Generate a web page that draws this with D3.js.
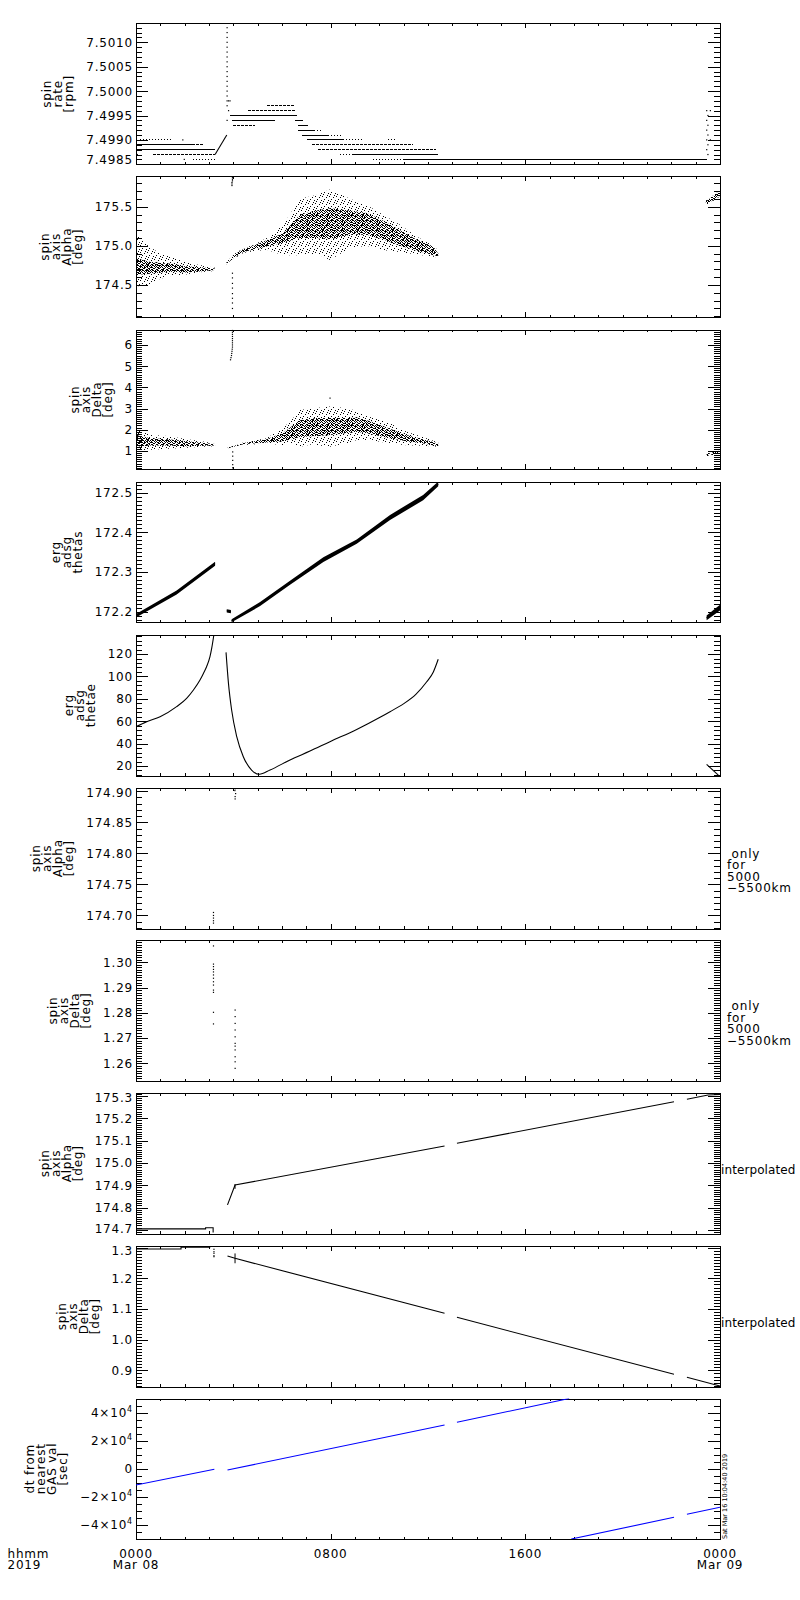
<!DOCTYPE html>
<html>
<head>
<meta charset="utf-8">
<script src="https://cdn.jsdelivr.net/npm/d3@7/dist/d3.min.js"></script>
<style>
  body { margin: 0; background: #fff; }
  svg text { font-family: "DejaVu Sans", sans-serif; font-size: 12px; letter-spacing: 0.8px; fill: #000; }
</style>
</head>
<body>
<div id="chart"></div>
<script>
// time axis, hours after 2019-03-08 00:00
const HOUR_DOMAIN = [0, 24];
const X_MAJOR = [0, 8, 16, 24];
const X_MINOR = d3.range(0, 25);
const X_LABELS = [["0000", "Mar 08"], ["0800"], ["1600"], ["0000", "Mar 09"]];

// y domains and tick labels, one pair per panel
const rateDomain = [7.4985, 7.50139];
const rateTicks = [7.4985, 7.4990, 7.4995, 7.5000, 7.5005, 7.5010];
const alphaDomain = [174.091, 175.888];
const alphaTicks = [174.5, 175.0, 175.5];
const deltaDomain = [0.13, 6.72];
const deltaTicks = [1, 2, 3, 4, 5, 6];
const thetasDomain = [172.173, 172.527];
const thetasTicks = [172.2, 172.3, 172.4, 172.5];
const thetaeDomain = [11.5, 137];
const thetaeTicks = [20, 40, 60, 80, 100, 120];
const alphaOnlyDomain = [174.679, 174.9053];
const alphaOnlyTicks = [174.70, 174.75, 174.80, 174.85, 174.90];
const deltaOnlyDomain = [1.25299, 1.30885];
const deltaOnlyTicks = [1.26, 1.27, 1.28, 1.29, 1.30];
const alphaInterpDomain = [174.684, 175.313];
const alphaInterpTicks = [174.7, 174.8, 174.9, 175.0, 175.1, 175.2, 175.3];
const deltaInterpDomain = [0.8476, 1.3052];
const deltaInterpTicks = [0.9, 1.0, 1.1, 1.2, 1.3];
const dtDomain = [-50000, 50000];
const dtTicks = [-40000, -20000, 0, 20000, 40000];

const noteOnly = [" only", "for", "5000", "\u22125500km"];
const noteInterp = ["", "interpolated"];
const STAMP = "Sat Mar 16 10:04:40 2019";

// panel 1: spin rate runs [h0, h1, rpm]
const rateSolid = [
  [0.03, 2.29, 7.4989], [0.03, 3.25, 7.4988], [3.86, 6.60, 7.4995], [3.93, 5.71, 7.4994],
  [6.53, 6.85, 7.4994], [6.66, 7.07, 7.4993], [6.66, 7.30, 7.4992], [6.82, 7.90, 7.4991],
  [7.03, 8.50, 7.4990], [8.86, 12.41, 7.4987], [11.00, 23.45, 7.4986]
];
const rateDashed = [
  [0.71, 3.25, 7.4987], [2.29, 2.74, 7.4989], [4.00, 4.89, 7.4993], [5.37, 6.53, 7.4997],
  [4.62, 6.53, 7.4996], [7.23, 11.38, 7.4989], [7.48, 12.33, 7.4988]
];
const rateDotted = [
  [0.16, 1.47, 7.4990], [2.36, 3.25, 7.4986], [7.30, 7.68, 7.4992], [7.90, 8.47, 7.4991],
  [8.50, 9.33, 7.4990], [10.36, 10.68, 7.4990], [8.38, 8.86, 7.4987], [9.73, 11.00, 7.4986]
];
const rateRamp = [[3.25, 7.4987], [3.73, 7.4991]];
const rateDots = [
  [3.74, 7.5013], [3.74, 7.5012], [3.74, 7.5011], [3.74, 7.5010], [3.74, 7.5009], [3.74, 7.5008],
  [3.74, 7.5007], [3.74, 7.5006], [3.74, 7.5005], [3.74, 7.5004], [3.74, 7.5003], [3.74, 7.5002],
  [3.74, 7.5001], [3.74, 7.5000], [3.74, 7.4999], [3.74, 7.4998], [3.80, 7.4998], [3.86, 7.4998],
  [3.74, 7.4997], [3.80, 7.4996], [3.74, 7.4994], [1.92, 7.4990], [1.98, 7.4986], [0.05, 7.4987],
  [23.45, 7.4996], [23.50, 7.4995], [23.45, 7.4994], [23.50, 7.4993], [23.45, 7.4992],
  [23.50, 7.4991], [23.45, 7.4990], [23.50, 7.4989], [23.45, 7.4988], [23.50, 7.4987],
  [23.60, 7.4996], [23.60, 7.4990]
];

// panel 2: spin axis alpha, scatter envelope [h, lo, hi] and dense core
const alphaSpread = [
  [[0, 174.48, 175.15], [0.5, 174.50, 175.00], [1.0, 174.58, 174.90], [1.5, 174.62, 174.85],
   [2.0, 174.63, 174.80], [2.5, 174.66, 174.76], [3.25, 174.68, 174.72]],
  [[3.70, 174.76, 174.78], [4.00, 174.83, 174.89], [4.41, 174.91, 174.97], [4.82, 174.93, 175.01],
   [5.37, 174.95, 175.10], [6.05, 174.88, 175.27], [6.74, 174.88, 175.60], [7.42, 174.90, 175.65],
   [7.97, 174.82, 175.72], [8.79, 174.97, 175.60], [9.48, 175.00, 175.52], [10.03, 174.95, 175.42],
   [10.85, 174.92, 175.27], [11.53, 174.89, 175.12], [12.22, 174.86, 175.00], [12.42, 174.85, 174.94]],
  [[23.42, 175.52, 175.58], [23.70, 175.57, 175.64], [24, 175.63, 175.71]]
];
const alphaCore = [
  [[0, 174.63, 174.84], [0.5, 174.64, 174.80], [1.0, 174.66, 174.78], [1.5, 174.67, 174.77],
   [2.0, 174.66, 174.74], [2.5, 174.67, 174.73], [3.25, 174.69, 174.71]],
  [[3.70, 174.76, 174.78], [4.00, 174.84, 174.88], [4.41, 174.92, 174.96], [4.82, 174.95, 175.00],
   [5.37, 174.99, 175.07], [6.05, 175.04, 175.16], [6.74, 175.10, 175.40], [7.42, 175.10, 175.45],
   [7.97, 175.08, 175.48], [8.79, 175.14, 175.45], [9.48, 175.14, 175.42], [10.16, 175.08, 175.32],
   [10.85, 175.00, 175.20], [11.53, 174.94, 175.08], [12.22, 174.88, 174.99], [12.42, 174.87, 174.90]],
  [[23.42, 175.53, 175.57], [23.70, 175.58, 175.63], [24, 175.64, 175.70]]
];
const alphaDots = [
  [3.96, 175.87], [3.96, 175.85], [3.96, 175.83], [3.94, 175.81], [3.94, 175.79], [3.94, 175.77],
  [3.96, 174.65], [3.96, 174.59], [3.96, 174.52], [3.96, 174.46], [3.96, 174.39], [3.96, 174.33],
  [3.96, 174.27], [3.96, 174.20]
];

// panel 3: spin axis delta
const deltaSpread = [
  [[0, 1.00, 2.10], [0.6, 1.05, 1.75], [1.3, 1.10, 1.70], [2.1, 1.15, 1.55], [2.7, 1.20, 1.45], [3.25, 1.22, 1.35]],
  [[3.70, 1.08, 1.14], [4.41, 1.28, 1.40], [5.37, 1.35, 1.60], [6.05, 1.27, 2.10], [6.33, 1.35, 2.37],
   [6.74, 1.19, 2.93], [7.20, 1.30, 3.00], [7.97, 1.19, 3.10], [8.79, 1.40, 3.00], [9.07, 1.51, 2.85],
   [9.62, 1.51, 2.60], [10.44, 1.35, 2.30], [11.12, 1.27, 1.90], [11.80, 1.24, 1.65], [12.42, 1.19, 1.40]],
  [[23.45, 0.72, 0.88], [24, 0.88, 1.05]]
];
const deltaCore = [
  [[0, 1.20, 1.75], [0.6, 1.25, 1.60], [1.3, 1.25, 1.55], [2.1, 1.22, 1.45], [2.7, 1.24, 1.38], [3.25, 1.25, 1.32]],
  [[3.70, 1.10, 1.12], [4.41, 1.31, 1.37], [5.37, 1.40, 1.55], [6.05, 1.45, 1.85], [6.74, 1.65, 2.45],
   [7.42, 1.70, 2.55], [7.97, 1.75, 2.55], [8.79, 1.85, 2.55], [9.07, 1.90, 2.58], [9.62, 1.80, 2.40],
   [10.44, 1.60, 2.05], [11.12, 1.45, 1.75], [11.80, 1.35, 1.55], [12.42, 1.22, 1.35]],
  [[23.45, 0.76, 0.85], [24, 0.92, 1.02]]
];
const deltaDots = [
  [3.96, 6.70], [3.96, 6.60], [3.96, 6.50], [3.96, 6.40], [3.96, 6.30], [3.96, 6.20], [3.96, 6.10],
  [3.96, 6.00], [3.96, 5.90], [3.95, 5.80], [3.94, 5.70], [3.93, 5.60], [3.92, 5.50], [3.90, 5.40],
  [3.88, 5.30], [3.97, 0.95], [3.97, 0.75], [3.97, 0.55], [3.97, 0.35], [3.97, 0.20], [7.97, 3.49]
];

// panel 4: erg adsg thetas band [h, lo, hi]
const thetasBand = [
  [[0, 172.185, 172.194], [1.67, 172.243, 172.253], [3.25, 172.316, 172.326]],
  [[3.73, 172.198, 172.206], [3.90, 172.196, 172.204]],
  [[3.93, 172.173, 172.181], [5.10, 172.214, 172.224], [6.33, 172.268, 172.278], [7.70, 172.325, 172.337],
   [9.07, 172.371, 172.382], [10.44, 172.431, 172.444], [11.80, 172.481, 172.494], [12.42, 172.516, 172.528]],
  [[23.45, 172.178, 172.190], [24, 172.203, 172.217]]
];

// panel 5: erg adsg thetae
const thetaeLines = [
  [[0, 55.1], [0.44, 59.6], [0.99, 64.0], [1.67, 73.0], [2.08, 80.4], [2.36, 87.9], [2.63, 96.8],
   [2.77, 102.7], [2.90, 108.7], [3.04, 117.6], [3.11, 125.0], [3.20, 137.0]],
  [[3.70, 121.5], [3.80, 93.8], [3.93, 70.0], [4.14, 46.2], [4.41, 28.3], [4.75, 16.4], [5.07, 12.6],
   [5.51, 16.4], [6.33, 25.4], [7.15, 33.3], [7.97, 41.7], [9.07, 52.6], [10.03, 63.5], [10.44, 68.5],
   [10.99, 75.5], [11.50, 84.0], [11.94, 95.0], [12.22, 104.0], [12.42, 115.3]],
  [[23.45, 21.5], [23.93, 11.9]]
];

// panels 6 and 7: values only for 5000-5500 km
const alphaOnlyDots = [
  [3.18, 174.7048], [3.18, 174.7000], [3.18, 174.6958], [3.18, 174.6915], [3.18, 174.6877],
  [4.07, 174.9040], [4.06, 174.9011], [4.09, 174.8963], [4.07, 174.8915], [4.07, 174.8877]
];
const deltaOnlyDots = [
  [3.18, 1.3065], [3.18, 1.2993], [3.18, 1.2983], [3.18, 1.2972], [3.18, 1.2962], [3.18, 1.2950],
  [3.18, 1.2937], [3.18, 1.2923], [3.18, 1.2910], [3.18, 1.2890], [3.18, 1.2881], [3.18, 1.2802],
  [3.18, 1.2756], [4.07, 1.2811], [4.07, 1.2785], [4.07, 1.2758], [4.07, 1.2732], [4.07, 1.2705],
  [4.07, 1.2679], [4.07, 1.2668], [4.07, 1.2653], [4.07, 1.2626], [4.07, 1.2606], [4.07, 1.2580]
];

// panels 8 and 9: interpolated
const alphaInterpLines = [
  [[0, 174.7045], [2.86, 174.7045], [2.86, 174.7100], [3.17, 174.7100], [3.17, 174.6880]],
  [[3.76, 174.812], [4.07, 174.901], [12.68, 175.076]],
  [[13.19, 175.088], [22.11, 175.274]],
  [[22.64, 175.285], [23.51, 175.304], [24, 175.306]]
];
const alphaInterpMarks = [[4.07, 174.884, 174.905]];
const deltaInterpLines = [
  [[0, 1.2954], [1.85, 1.2954], [1.85, 1.3010], [3.03, 1.3010], [3.03, 1.3045], [3.17, 1.3045]],
  [[3.76, 1.2726], [4.07, 1.2651], [12.68, 1.0860]],
  [[13.19, 1.0730], [22.11, 0.8873]],
  [[22.64, 0.8775], [24, 0.8490]]
];
const deltaInterpMarks = [[4.07, 1.249, 1.281]];
const deltaInterpDots = [[3.20, 1.2945], [3.20, 1.2866], [3.20, 1.2814], [3.20, 1.2736], [3.20, 1.2704]];

// panel 10: dt from nearest GAS value [sec]
const dtLines = [
  [[0, -11566], [3.22, -391]],
  [[3.76, -890], [12.68, 31139]],
  [[13.19, 33060], [17.80, 50000]],
  [[17.89, -50000], [22.11, -34555]],
  [[22.64, -32420], [24, -27438]]
];

// ---------------------------------------------------------------
const WIDTH = 800;
const HEIGHT = 1600;
const LEFT = 136;
const RIGHT = 720;
const TOPS = [23.3, 176.3, 329.7, 482, 635, 788, 940, 1093, 1246, 1398.5];
const BOTTOMS = [164.3, 317, 469.3, 622.3, 775.5, 928.5, 1081, 1233.5, 1386.5, 1539];

const ALPHA_T = ["spin", "axis", "Alpha", "[deg]"];
const DELTA_T = ["spin", "axis", "Delta", "[deg]"];

const panels = [
  { domain: rateDomain, ticks: rateTicks, minor: 0.0001, fmt: d3.format(".4f"), title: ["spin", "rate", "[rpm]"] },
  { domain: alphaDomain, ticks: alphaTicks, minor: 0.1, fmt: d3.format(".1f"), title: ALPHA_T },
  { domain: deltaDomain, ticks: deltaTicks, minor: 0.1, fmt: d3.format("d"), title: DELTA_T },
  { domain: thetasDomain, ticks: thetasTicks, minor: 0.01, fmt: d3.format(".1f"), title: ["erg", "adsg", "thetas"] },
  { domain: thetaeDomain, ticks: thetaeTicks, minor: 4, fmt: d3.format("d"), title: ["erg", "adsg", "thetae"] },
  { domain: alphaOnlyDomain, ticks: alphaOnlyTicks, minor: 0.01, fmt: d3.format(".2f"), title: ALPHA_T, note: noteOnly, noteDx: 7 },
  { domain: deltaOnlyDomain, ticks: deltaOnlyTicks, minor: 0.001, fmt: d3.format(".2f"), title: DELTA_T, note: noteOnly, noteDx: 7 },
  { domain: alphaInterpDomain, ticks: alphaInterpTicks, minor: 0.01, fmt: d3.format(".1f"), title: ALPHA_T, note: noteInterp, noteDx: 1 },
  { domain: deltaInterpDomain, ticks: deltaInterpTicks, minor: 0.01, fmt: d3.format(".1f"), title: DELTA_T, note: noteInterp, noteDx: 1 },
  { domain: dtDomain, ticks: dtTicks, minor: 5000, fmt: null, title: ["dt from", "nearest", "GAS val", "[sec]"] }
];

const x = d3.scaleLinear().domain(HOUR_DOMAIN).range([LEFT, RIGHT]);

const svg = d3.select("#chart").append("svg")
    .attr("width", WIDTH)
    .attr("height", HEIGHT)
    .style("background", "#fff");
const defs = svg.append("defs");

// scatter textures
function texture(id, size, cells) {
  const pat = defs.append("pattern").attr("id", id)
      .attr("patternUnits", "userSpaceOnUse").attr("width", size).attr("height", size);
  cells.forEach(c => pat.append("rect")
      .attr("x", c[0]).attr("y", c[1]).attr("width", 1).attr("height", 1).attr("fill", "#000"));
}
texture("speck", 7, [[0, 0], [4, 1], [2, 3], [6, 4], [1, 5], [5, 6]]);
texture("dense", 5, [[0, 0], [2, 0], [3, 0], [1, 1], [4, 1], [0, 2], [2, 2], [3, 3], [4, 3], [1, 4], [2, 4]]);

function minorValues(domain, step) {
  const out = [];
  const k0 = Math.ceil(domain[0] / step - 1e-6);
  const k1 = Math.floor(domain[1] / step + 1e-6);
  for (let k = k0; k <= k1; k++) out.push(+(k * step).toFixed(8));
  return out;
}

function tickAxis(g, axis) {
  g.call(axis).call(s => s.select(".domain").remove());
  g.selectAll("line").attr("stroke", "#000").attr("shape-rendering", "crispEdges");
  g.selectAll("text").remove();
}

const plots = panels.map((p, i) => {
  const top = TOPS[i], bot = BOTTOMS[i];
  const y = d3.scaleLinear().domain(p.domain).range([bot, top]);
  const g = svg.append("g");

  defs.append("clipPath").attr("id", "clip" + i)
    .append("rect").attr("x", LEFT).attr("y", top).attr("width", RIGHT - LEFT).attr("height", bot - top);

  // ticks, mirrored on all four sides
  const minors = minorValues(p.domain, p.minor);
  tickAxis(g.append("g").attr("transform", `translate(${LEFT},0)`), d3.axisLeft(y).tickValues(minors).tickSize(-5.8));
  tickAxis(g.append("g").attr("transform", `translate(${LEFT},0)`), d3.axisLeft(y).tickValues(p.ticks).tickSize(-11.7));
  tickAxis(g.append("g").attr("transform", `translate(${RIGHT},0)`), d3.axisRight(y).tickValues(minors).tickSize(-5.8));
  tickAxis(g.append("g").attr("transform", `translate(${RIGHT},0)`), d3.axisRight(y).tickValues(p.ticks).tickSize(-11.7));
  tickAxis(g.append("g").attr("transform", `translate(0,${top})`), d3.axisTop(x).tickValues(X_MINOR).tickSize(-2.5));
  tickAxis(g.append("g").attr("transform", `translate(0,${top})`), d3.axisTop(x).tickValues(X_MAJOR).tickSize(-5));
  tickAxis(g.append("g").attr("transform", `translate(0,${bot})`), d3.axisBottom(x).tickValues(X_MINOR).tickSize(-2.5));
  tickAxis(g.append("g").attr("transform", `translate(0,${bot})`), d3.axisBottom(x).tickValues(X_MAJOR).tickSize(-5));

  g.append("rect")
      .attr("x", LEFT + 0.5).attr("y", Math.round(top) + 0.5)
      .attr("width", RIGHT - LEFT).attr("height", Math.round(bot) - Math.round(top))
      .attr("fill", "none").attr("stroke", "#000").attr("shape-rendering", "crispEdges");

  // y tick labels
  const labels = g.selectAll(".ylab").data(p.ticks).join("text")
      .attr("class", "ylab")
      .attr("x", LEFT - 3)
      .attr("y", d => Math.max(top + 4.5, Math.min(bot - 4.5, y(d))) + 4.4)
      .attr("text-anchor", "end");
  if (p.fmt) {
    labels.text(p.fmt);
  } else {
    labels.each(function(d) {
      const t = d3.select(this);
      if (d === 0) { t.text("0"); return; }
      t.append("tspan").text((d < 0 ? "\u2212" : "") + Math.abs(d) / 1e4 + "\u00d710");
      t.append("tspan").attr("dy", -5).style("font-size", "8px").text("4");
    });
  }
  const minLeft = d3.min(labels.nodes(), n => n.getBBox().x);

  // rotated multi-line title
  const lastBase = minLeft - 13;
  const mid = (top + bot) / 2;
  const title = g.append("text")
      .attr("transform", `translate(${lastBase},${mid}) rotate(-90)`)
      .attr("text-anchor", "middle");
  p.title.forEach((s, k) => {
    title.append("tspan").attr("x", 0).attr("y", -(p.title.length - 1 - k) * 11).text(s);
  });

  // note right of the frame
  if (p.note) {
    g.selectAll(".note").data(p.note).join("text")
        .attr("class", "note")
        .attr("x", RIGHT + p.noteDx)
        .attr("y", (d, k) => mid - 0.5 + k * 11.5)
        .style("white-space", "pre")
        .style("letter-spacing", p.noteDx < 5 ? "0.1px" : null)
        .text(d => d);
  }

  const plot = svg.append("g").attr("clip-path", `url(#clip${i})`);
  return { y, plot };
});

// ---------------------------------------------------------------
function runs(k, data, dash) {
  const { y, plot } = plots[k];
  plot.selectAll(null).data(data).join("line")
      .attr("x1", d => x(d[0])).attr("x2", d => x(d[1]))
      .attr("y1", d => y(d[2])).attr("y2", d => y(d[2]))
      .attr("stroke", "#000")
      .attr("stroke-dasharray", dash)
      .attr("shape-rendering", "crispEdges");
}

function dots(k, data) {
  const { y, plot } = plots[k];
  plot.selectAll(null).data(data).join("rect")
      .attr("x", d => x(d[0]) - 0.5).attr("y", d => y(d[1]) - 0.6)
      .attr("width", 1.2).attr("height", 1.2)
      .attr("fill", "#000");
}

function bands(k, segs, fill) {
  const { y, plot } = plots[k];
  const area = d3.area().x(d => x(d[0])).y0(d => y(d[1])).y1(d => y(d[2]));
  plot.selectAll(null).data(segs).join("path")
      .attr("d", area)
      .attr("fill", fill);
}

function lines(k, segs, color, curve) {
  const { y, plot } = plots[k];
  const line = d3.line().x(d => x(d[0])).y(d => y(d[1])).curve(curve || d3.curveLinear);
  plot.selectAll(null).data(segs).join("path")
      .attr("d", line)
      .attr("fill", "none")
      .attr("stroke", color)
      .attr("stroke-width", 1.1);
}

function marks(k, data) {
  const { y, plot } = plots[k];
  plot.selectAll(null).data(data).join("line")
      .attr("x1", d => x(d[0])).attr("x2", d => x(d[0]))
      .attr("y1", d => y(d[1])).attr("y2", d => y(d[2]))
      .attr("stroke", "#000");
}

// panel 1
runs(0, rateSolid, null);
runs(0, rateDashed, "3,1");
runs(0, rateDotted, "1,2");
lines(0, [rateRamp], "#000");
dots(0, rateDots);

// panels 2, 3
bands(1, alphaSpread, "url(#speck)");
bands(1, alphaCore, "url(#dense)");
dots(1, alphaDots);
bands(2, deltaSpread, "url(#speck)");
bands(2, deltaCore, "url(#dense)");
dots(2, deltaDots);

// panels 4, 5
bands(3, thetasBand, "#000");
lines(3, thetasBand.map(s => s.map(d => [d[0], (d[1] + d[2]) / 2])), "#000");
lines(4, thetaeLines, "#000", d3.curveMonotoneX);

// panels 6, 7
dots(5, alphaOnlyDots);
dots(6, deltaOnlyDots);

// panels 8, 9
lines(7, alphaInterpLines, "#000");
marks(7, alphaInterpMarks);
lines(8, deltaInterpLines, "#000");
marks(8, deltaInterpMarks);
dots(8, deltaInterpDots);

// panel 10
lines(9, dtLines, "#0000ff");

// time labels under the last panel
const xl = svg.append("g");
X_MAJOR.forEach((h, i) => {
  X_LABELS[i].forEach((s, k) => {
    xl.append("text")
        .attr("x", x(h))
        .attr("y", 1557.5 + k * 11.5)
        .attr("text-anchor", "middle")
        .text(s);
  });
});
xl.append("text").attr("x", 7.5).attr("y", 1557.5).text("hhmm");
xl.append("text").attr("x", 7.5).attr("y", 1569).text("2019");

svg.append("text")
    .attr("transform", `translate(727,${BOTTOMS[9]}) rotate(-90)`)
    .style("font-size", "6.5px")
    .style("letter-spacing", "0px")
    .text(STAMP);
</script>
</body>
</html>
